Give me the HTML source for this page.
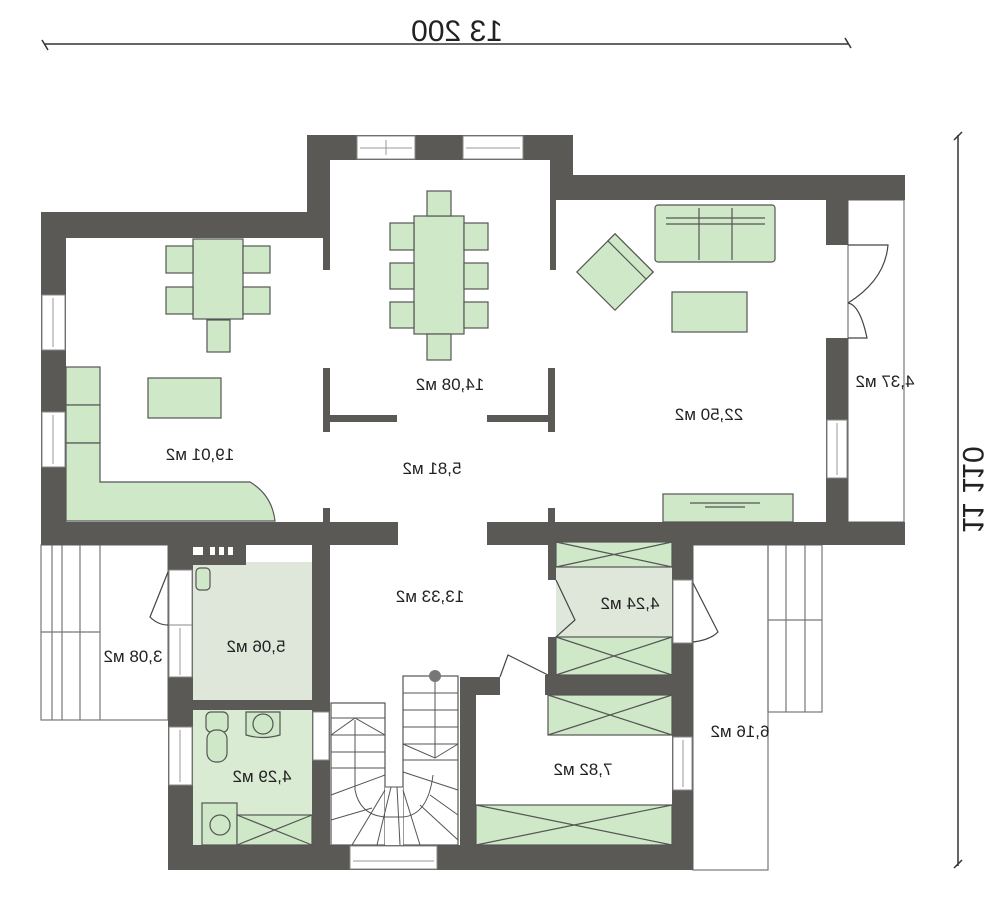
<!DOCTYPE html>
<html><head><meta charset="utf-8"><style>html,body{margin:0;padding:0;background:#fff;}svg{display:block}text{font-family:"Liberation Sans",Arial,sans-serif;}</style></head>
<body>
<svg width="1000" height="900" viewBox="0 0 1000 900" xmlns="http://www.w3.org/2000/svg">
<!-- dimension lines -->
<g stroke="#333" stroke-width="1.5" fill="none">
<line x1="45" y1="44" x2="848" y2="44"/>
<line x1="42" y1="40" x2="48" y2="50"/><line x1="845" y1="38" x2="851" y2="48"/>
<line x1="958" y1="135" x2="958" y2="866"/>
<line x1="954" y1="140" x2="962" y2="132"/><line x1="954" y1="868" x2="962" y2="860"/>
</g>
<text transform="translate(457,41) scale(-1,1)" text-anchor="middle" font-size="30" fill="#222">13 200</text>
<text transform="translate(963,490) scale(-1,1) rotate(-90)" text-anchor="middle" font-size="30" fill="#222">11 110</text>

<!-- outer strips / terraces -->
<g fill="none" stroke="#777" stroke-width="1.2">
<rect x="848" y="200" width="56" height="322"/>
<rect x="41" y="545" width="127" height="175"/>
<line x1="52" y1="545" x2="52" y2="720"/><line x1="62" y1="545" x2="62" y2="720"/><line x1="80" y1="545" x2="80" y2="720"/><line x1="100" y1="545" x2="100" y2="720"/>
<line x1="41" y1="632" x2="100" y2="632"/>
<rect x="693" y="545" width="75" height="325"/>
<rect x="768" y="545" width="54" height="167"/>
<line x1="786" y1="545" x2="786" y2="712"/><line x1="805" y1="545" x2="805" y2="712"/>
<line x1="768" y1="620" x2="822" y2="620"/>
</g>

<!-- room fills -->
<rect x="193" y="562" width="120" height="138" fill="#dfe6da"/>
<rect x="193" y="710" width="120" height="135" fill="#d9ebd3"/>
<rect x="556" y="567" width="116" height="70" fill="#dfe6da"/>

<!-- walls -->
<g fill="#5b5956">
<rect x="41" y="212" width="289" height="26"/>
<rect x="41" y="212" width="25" height="333"/>
<rect x="307" y="135" width="23" height="103"/>
<rect x="307" y="135" width="266" height="25"/>
<rect x="550" y="135" width="23" height="65"/>
<rect x="550" y="175" width="355" height="25"/>
<rect x="550" y="200" width="6" height="70"/>
<rect x="323" y="238" width="7" height="32"/>
<rect x="826" y="200" width="22" height="45"/>
<rect x="826" y="338" width="22" height="207"/>
<rect x="41" y="522" width="357" height="23"/>
<rect x="487" y="522" width="418" height="23"/>
<rect x="323" y="368" width="7" height="64"/>
<rect x="330" y="415" width="67" height="7"/>
<rect x="548" y="368" width="7" height="64"/>
<rect x="487" y="415" width="61" height="7"/>
<rect x="323" y="508" width="7" height="14"/>
<rect x="548" y="508" width="7" height="14"/>
<rect x="168" y="545" width="25" height="325"/>
<rect x="168" y="545" width="78" height="20"/>
<rect x="312" y="545" width="18" height="325"/>
<rect x="193" y="700" width="137" height="10"/>
<rect x="168" y="845" width="322" height="25"/>
<rect x="460" y="677" width="16" height="193"/>
<rect x="460" y="677" width="40" height="18"/>
<rect x="672" y="545" width="21" height="325"/>
<rect x="460" y="845" width="233" height="25"/>
<rect x="548" y="545" width="8" height="35"/>
<rect x="548" y="637" width="8" height="38"/>
<rect x="545" y="675" width="127" height="20"/>
</g>
<!-- white openings -->
<g fill="#fff" stroke="#888" stroke-width="1">
<rect x="357" y="136" width="58" height="23"/><rect x="463" y="136" width="60" height="23"/>
<rect x="42" y="295" width="23" height="55"/><rect x="42" y="412" width="23" height="55"/>
<rect x="827" y="420" width="20" height="58"/>
<rect x="169" y="570" width="23" height="55"/>
<rect x="169" y="625" width="23" height="52"/><rect x="169" y="727" width="23" height="58"/>
<rect x="313" y="712" width="16" height="48"/>
<rect x="350" y="846" width="87" height="23"/>
<rect x="673" y="580" width="19" height="63"/>
<rect x="673" y="737" width="19" height="53"/>
<rect x="827" y="245" width="20" height="93" stroke="none"/>
</g>
<g fill="none" stroke="#999" stroke-width="1">
<line x1="386" y1="140" x2="386" y2="155"/><line x1="360" y1="148" x2="412" y2="148"/><line x1="466" y1="148" x2="520" y2="148"/>
<line x1="53" y1="298" x2="53" y2="347"/><line x1="53" y1="415" x2="53" y2="464"/>
<line x1="180" y1="628" x2="180" y2="675"/><line x1="180" y1="730" x2="180" y2="782"/>
<line x1="837" y1="423" x2="837" y2="475"/><line x1="683" y1="740" x2="683" y2="787"/>
<line x1="353" y1="861" x2="434" y2="861"/>
</g>
<g fill="#fff"><rect x="193" y="547" width="10" height="8"/><rect x="210" y="547" width="5" height="8"/><rect x="219" y="547" width="5" height="8"/><rect x="228" y="547" width="5" height="8"/></g>

<!-- door swings -->
<g fill="none" stroke="#444" stroke-width="1.2">
<path d="M848 245 L888 245 Q885 280 848 303"/>
<path d="M848 338 L867 338 Q860 305 848 303"/>
<path d="M168 572 L150 617 Q158 625 168 625"/>
<path d="M693 583 L718 632 Q710 640 693 642"/>
<path d="M556 580 L575 620 L556 637"/>
<path d="M500 677 L508 655 L548 675"/>
</g>

<!-- green furniture -->
<g fill="#cfe8c8" stroke="#555" stroke-width="1.2">
<rect x="193" y="239" width="50" height="80"/>
<rect x="166" y="246" width="27" height="27"/><rect x="166" y="287" width="27" height="27"/>
<rect x="243" y="246" width="27" height="27"/><rect x="243" y="287" width="27" height="27"/>
<rect x="207" y="320" width="23" height="32"/>
<rect x="414" y="216" width="50" height="118"/>
<rect x="427" y="191" width="24" height="25"/><rect x="427" y="334" width="24" height="26"/>
<rect x="390" y="223" width="24" height="27"/><rect x="390" y="263" width="24" height="26"/><rect x="390" y="302" width="24" height="26"/>
<rect x="464" y="223" width="24" height="27"/><rect x="464" y="263" width="24" height="26"/><rect x="464" y="302" width="24" height="26"/>
<rect x="148" y="378" width="73" height="40"/>
<rect x="66" y="367" width="34" height="38"/><rect x="66" y="405" width="34" height="38"/>
<path d="M66 443 L100 443 L100 482 L250 482 Q272 495 275 521 L66 521 Z"/>
<rect x="655" y="205" width="120" height="57" rx="3"/>
<line x1="666" y1="218" x2="765" y2="218"/><line x1="666" y1="224" x2="765" y2="224"/>
<line x1="699" y1="208" x2="699" y2="260"/><line x1="732" y1="208" x2="732" y2="260"/>
<rect x="672" y="292" width="75" height="40"/>
<g transform="translate(615,272) rotate(45)"><rect x="-27" y="-27" width="54" height="54"/><rect x="-27" y="-27" width="54" height="10"/></g>
<rect x="663" y="494" width="130" height="28"/>
<rect x="196" y="568" width="14" height="22" rx="4"/>
<rect x="206" y="712" width="22" height="20" rx="5"/><rect x="207" y="730" width="20" height="32" rx="9"/>
<path d="M246 712 L280 712 L280 735 Q263 740 246 735 Z"/><circle cx="263" cy="724" r="10"/>
<rect x="202" y="803" width="35" height="42"/><circle cx="220" cy="825" r="10"/>
<rect x="237" y="815" width="75" height="30"/>
<rect x="556" y="542" width="116" height="25"/>
<rect x="556" y="637" width="116" height="38"/>
<rect x="548" y="695" width="124" height="40"/>
<rect x="476" y="805" width="196" height="40"/>
</g>
<g stroke="#555" stroke-width="1.2">
<line x1="556" y1="542" x2="672" y2="567"/><line x1="672" y1="542" x2="556" y2="567"/>
<line x1="556" y1="637" x2="672" y2="675"/><line x1="672" y1="637" x2="556" y2="675"/>
<line x1="548" y1="695" x2="672" y2="735"/><line x1="672" y1="695" x2="548" y2="735"/>
<line x1="476" y1="805" x2="672" y2="845"/><line x1="672" y1="805" x2="476" y2="845"/>
<line x1="237" y1="815" x2="312" y2="845"/><line x1="312" y1="815" x2="237" y2="845"/>
<line x1="690" y1="503" x2="760" y2="503"/><line x1="705" y1="507" x2="745" y2="507"/>
</g>

<!-- stairs -->
<g fill="#fff" stroke="#555" stroke-width="1.2">
<rect x="331" y="703" width="54" height="142"/>
<rect x="403" y="676" width="55" height="169"/>
<rect x="385" y="787" width="18" height="58" stroke="none"/>
</g>
<g fill="none" stroke="#555" stroke-width="1">
<line x1="331" y1="718" x2="385" y2="718"/><line x1="331" y1="735" x2="385" y2="735"/><line x1="331" y1="752" x2="385" y2="752"/><line x1="331" y1="768" x2="385" y2="768"/>
<line x1="355" y1="720" x2="355" y2="790"/><path d="M331 735 L355 718 L385 735"/>
<line x1="403" y1="693" x2="458" y2="693"/><line x1="403" y1="710" x2="458" y2="710"/><line x1="403" y1="727" x2="458" y2="727"/><line x1="403" y1="744" x2="458" y2="744"/><line x1="403" y1="760" x2="458" y2="760"/>
<line x1="435" y1="678" x2="435" y2="758"/><path d="M403 744 L435 758 L458 744"/>
<path d="M355 790 Q360 815 385 817 L403 817 Q428 815 433 775"/>
<line x1="385" y1="787" x2="403" y2="787"/>
<line x1="331" y1="795" x2="385" y2="775"/><line x1="331" y1="820" x2="372" y2="808"/><line x1="352" y1="845" x2="385" y2="790"/><line x1="377" y1="845" x2="391" y2="787"/>
<line x1="400" y1="845" x2="397" y2="787"/><line x1="420" y1="845" x2="403" y2="790"/><line x1="458" y1="840" x2="420" y2="805"/><line x1="458" y1="815" x2="430" y2="795"/><line x1="458" y1="790" x2="403" y2="772"/>
</g>
<circle cx="435" cy="676" r="6" fill="#777"/>

<!-- labels -->
<g font-size="17" fill="#222" text-anchor="middle">
<text transform="translate(450,390) scale(-1,1)">14,08 м2</text>
<text transform="translate(200,460) scale(-1,1)">19,01 м2</text>
<text transform="translate(432,474) scale(-1,1)">5,81 м2</text>
<text transform="translate(709,420) scale(-1,1)">22,50 м2</text>
<text transform="translate(885,387) scale(-1,1)">4,37 м2</text>
<text transform="translate(430,602) scale(-1,1)">13,33 м2</text>
<text transform="translate(256,652) scale(-1,1)">5,06 м2</text>
<text transform="translate(133,662) scale(-1,1)">3,08 м2</text>
<text transform="translate(262,782) scale(-1,1)">4,29 м2</text>
<text transform="translate(630,609) scale(-1,1)">4,24 м2</text>
<text transform="translate(583,775) scale(-1,1)">7,82 м2</text>
<text transform="translate(740,737) scale(-1,1)">6,16 м2</text>
</g>
</svg>
</body></html>
